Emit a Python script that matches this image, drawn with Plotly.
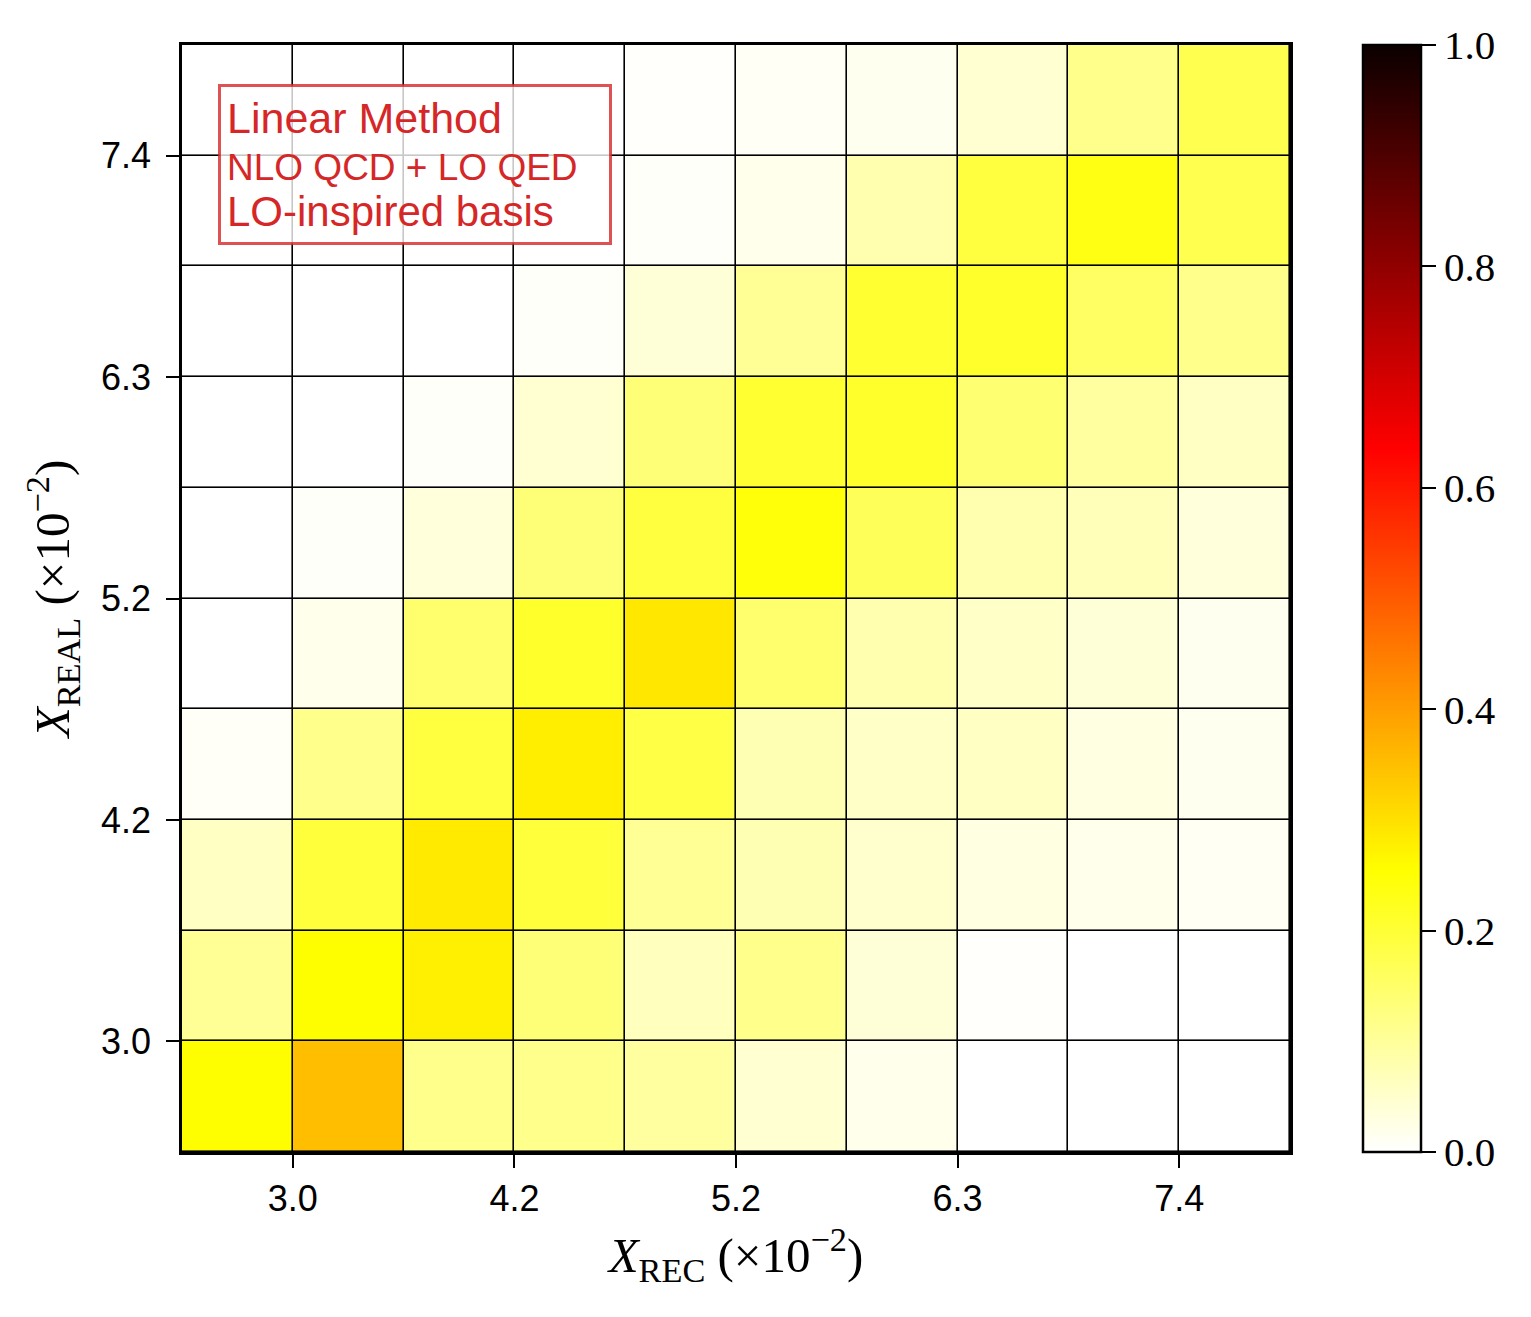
import plotly.graph_objects as go

# bin edges (bin index space) and tick labels
bin_edges = list(range(11))
tick_positions = [1, 3, 5, 7, 9]
tick_labels = ["3.0", "4.2", "5.2", "6.3", "7.4"]

# correlation matrix, rows from bottom (X_REAL bin 0) to top (bin 9)
row0 = [0.255, 0.350, 0.115, 0.115, 0.095, 0.045, 0.020, 0.000, 0.000, 0.000]
row1 = [0.105, 0.255, 0.278, 0.135, 0.065, 0.115, 0.040, 0.003, 0.000, 0.000]
row2 = [0.060, 0.195, 0.285, 0.195, 0.105, 0.075, 0.050, 0.030, 0.020, 0.012]
row3 = [0.008, 0.115, 0.190, 0.280, 0.185, 0.075, 0.055, 0.060, 0.030, 0.015]
row4 = [0.000, 0.020, 0.145, 0.210, 0.290, 0.145, 0.080, 0.055, 0.040, 0.015]
row5 = [0.000, 0.005, 0.035, 0.135, 0.190, 0.245, 0.165, 0.080, 0.070, 0.035]
row6 = [0.000, 0.000, 0.005, 0.045, 0.135, 0.205, 0.210, 0.140, 0.095, 0.060]
row7 = [0.000, 0.000, 0.000, 0.005, 0.040, 0.105, 0.205, 0.210, 0.155, 0.115]
row8 = [0.000, 0.000, 0.000, 0.000, 0.005, 0.020, 0.080, 0.190, 0.235, 0.175]
row9 = [0.000, 0.000, 0.000, 0.000, 0.003, 0.010, 0.015, 0.045, 0.115, 0.175]
z = [row0, row1, row2, row3, row4, row5, row6, row7, row8, row9]

cbar_ticks = [0.0, 0.2, 0.4, 0.6, 0.8, 1.0]

# matplotlib "hot_r"
hot_r = [
    [0.0, "rgb(255,255,255)"],
    [0.253968, "rgb(255,255,0)"],
    [0.634921, "rgb(255,0,0)"],
    [1.0, "rgb(11,0,0)"],
]

sans = "Liberation Sans"
serif = "Liberation Serif"
red = "rgb(214,39,40)"

fig = go.Figure(
    go.Heatmap(
        x=bin_edges,
        y=bin_edges,
        z=z,
        zmin=0,
        zmax=1,
        colorscale=hot_r,
        xgap=1.6,
        ygap=1.6,
        colorbar=dict(
            thickness=58,
            thicknessmode="pixels",
            len=1,
            lenmode="fraction",
            y=0.5,
            yanchor="middle",
            x=1.0658,
            xanchor="left",
            xpad=0,
            ypad=0,
            outlinewidth=2.5,
            outlinecolor="black",
            ticks="outside",
            ticklen=14,
            tickwidth=2,
            tickcolor="black",
            tickvals=cbar_ticks,
            tickformat=".1f",
            tickfont=dict(family=serif, size=41, color="black"),
        ),
        hoverinfo="skip",
    )
)

fig.update_layout(
    width=1523,
    height=1309,
    margin=dict(l=174, r=241, t=37, b=165),
    paper_bgcolor="white",
    plot_bgcolor="black",
    font=dict(family=sans, color="black"),
)

axis_common = dict(
    range=[0, 10],
    tickvals=tick_positions,
    ticktext=tick_labels,
    showgrid=False,
    zeroline=False,
    showline=True,
    linecolor="black",
    linewidth=2.5,
    mirror=True,
    ticks="outside",
    ticklen=13,
    tickwidth=2,
    tickcolor="black",
    tickfont=dict(family=sans, size=36, color="black"),
)

fig.update_xaxes(
    **axis_common,
    title=dict(
        text="<i>X</i><sub>REC</sub> (×10<sup>−2</sup>)",
        font=dict(family=serif, size=49, color="black"),
        standoff=20,
    ),
)
fig.update_yaxes(
    **axis_common,
    ticklabelstandoff=8,
    title=dict(
        text="<i>X</i><sub>REAL</sub> (×10<sup>−2</sup>)",
        font=dict(family=serif, size=49, color="black"),
        standoff=16,
    ),
)

fig.add_annotation(
    xref="paper",
    yref="paper",
    x=0.0325,
    y=0.9648,
    xanchor="left",
    yanchor="top",
    showarrow=False,
    align="left",
    valign="middle",
    width=376,
    height=143,
    text=(
        "<span style='font-size:43px'>Linear Method</span><br>"
        "<span style='font-size:37px'>NLO QCD + LO QED</span><br>"
        "<span style='font-size:42px'>LO-inspired basis</span>"
    ),
    font=dict(family=sans, size=36, color=red),
    bgcolor="rgba(255,255,255,0.78)",
    bordercolor="rgba(214,39,40,0.8)",
    borderwidth=3,
    borderpad=6,
)

fig.write_html("out.html")
